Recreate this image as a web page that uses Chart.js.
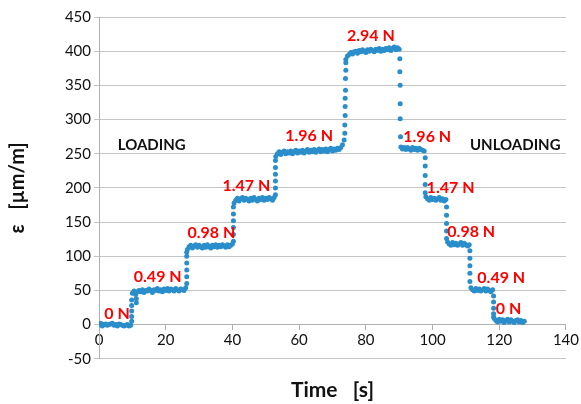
<!DOCTYPE html>
<html>
<head>
<meta charset="utf-8">
<script src="https://cdn.jsdelivr.net/npm/chart.js@4.4.1/dist/chart.umd.min.js"></script>
<style>
  body { margin: 0; background: #fff; }
  #wrap { width: 581px; height: 404px; }
</style>
</head>
<body>
<div id="wrap"><canvas id="grafico-deformacion" width="581" height="404"></canvas></div>
<script>
// Muestreo de la señal (s)
const sampleStep = 0.5;

// Deformación registrada cada 0.5 s, de 0 a 127.5 s (µm/m)
const strain0N = [0, 2, -2, 0, 1, -1, 0, 1, 2, -1, 0, -2, 1, 0, -1, -2, -1, 0, -2, -1];
const strain049 = [46, 49, 44, 48, 50, 48, 51, 47, 50, 49, 52, 50, 47, 51, 50, 53, 49, 51, 48, 52, 50, 53, 49, 52, 51, 49, 53, 51, 49, 52, 51, 50, 54];
const strain098 = [110, 114, 116, 112, 115, 117, 113, 116, 114, 112, 116, 113, 117, 114, 112, 116, 114, 117, 113, 116, 114, 117, 115, 113, 117, 114, 116, 118];
const strain147 = [178, 182, 185, 181, 184, 186, 182, 185, 183, 181, 185, 182, 186, 183, 181, 185, 183, 186, 182, 185, 183, 186, 184, 182, 186];
const strain196 = [246, 250, 253, 249, 252, 254, 250, 253, 251, 254, 250, 253, 255, 251, 254, 252, 255, 251, 254, 256, 252, 255, 253, 256, 252, 255, 257, 253, 256, 254, 257, 253, 256, 258, 254, 257, 255, 258, 256, 259, 263, 270];
const strain294 = [388, 393, 395, 398, 396, 399, 400, 397, 401, 399, 402, 400, 398, 402, 400, 403, 401, 399, 403, 401, 404, 400, 403, 401, 404, 402, 405, 401, 404, 406, 402, 405, 403];
const strain196u = [260, 257, 259, 256, 259, 257, 255, 259, 256, 258, 255, 258, 256, 255, 254];
const strain147u = [187, 184, 182, 186, 183, 185, 182, 184, 186, 182, 184, 181, 183];
const strain098u = [121, 118, 116, 120, 117, 119, 116, 118, 120, 116, 119, 117, 115, 117];
const strain049u = [54, 51, 49, 53, 50, 52, 49, 51, 53, 49, 52, 50, 48, 51];
const strain0Nu = [9, 6, 4, 8, 5, 7, 3, 6, 8, 4, 7, 5, 3, 6, 7, 4, 6, 3, 5];

// Puntos sueltos durante los cambios de carga
const jumpTime = [9.8, 9.8, 9.8, 9.8, 9.8, 11.2, 11.2,
  26.3, 26.3, 26.3, 26.3, 26.3, 26.3,
  40.3, 40.3, 40.3, 40.3, 40.3, 40.3,
  52.9, 52.9, 52.9, 52.9, 52.9, 52.9,
  73.7, 73.7, 73.8, 73.8, 73.8, 73.9, 73.9, 74.0, 74.0,
  90.2, 90.2, 90.3, 90.3, 90.3, 90.4,
  97.8, 97.8, 97.8, 97.8, 97.8,
  104.2, 104.2, 104.2, 104.2, 104.2,
  111.2, 111.2, 111.2, 111.2, 111.2,
  118.3, 118.3, 118.3, 118.3, 118.3];
const jumpStrain = [5, 12, 20, 28, 36, 32, 38,
  60, 70, 80, 90, 100, 106,
  122, 132, 142, 152, 162, 172,
  190, 200, 210, 220, 230, 240,
  280, 292, 306, 319, 331, 343, 360, 372, 383,
  389, 370, 350, 323, 301, 275,
  244, 232, 218, 205, 193,
  172, 160, 148, 137, 126,
  108, 97, 86, 75, 63,
  42, 33, 24, 16, 11];

// Etiquetas de carga: texto, tiempo y deformación donde se escriben
const loadText = ['0 N', '0.49 N', '0.98 N', '1.47 N', '1.96 N', '2.94 N', '1.96 N', '1.47 N', '0.98 N', '0.49 N', '0 N'];
const loadTime = [5.4, 17.6, 33.7, 44.2, 63.0, 81.5, 98.4, 105.4, 111.6, 120.6, 122.8];
const loadStrain = [16, 70, 134, 203, 276, 422, 275, 200, 136, 69, 23];

const phaseText = ['LOADING', 'UNLOADING'];
const phaseTime = [15.8, 124.8];
const phaseStrain = [263, 263];

const xTicks = { min: 0, max: 140, step: 20 };
const yTicks = { min: -50, max: 450, step: 50 };

const strain = [].concat(strain0N, strain049, strain098, strain147, strain196, strain294,
  strain196u, strain147u, strain098u, strain049u, strain0Nu);

const puntos = strain.map(function (v, i) { return { x: i * sampleStep, y: v }; })
  .concat(jumpTime.map(function (t, i) { return { x: t, y: jumpStrain[i] }; }));

const etiquetasPlugin = {
  id: 'etiquetas',
  afterDatasetsDraw: function (chart) {
    const ctx = chart.ctx;
    const xs = chart.scales.x;
    const ys = chart.scales.y;
    ctx.save();
    ctx.textAlign = 'center';
    ctx.textBaseline = 'middle';
    ctx.font = 'bold 16px Lato';
    ctx.fillStyle = '#ff0000';
    loadText.forEach(function (txt, i) {
      ctx.fillText(txt, xs.getPixelForValue(loadTime[i]), ys.getPixelForValue(loadStrain[i]));
    });
    ctx.font = 'bold 15px Lato';
    ctx.fillStyle = '#111';
    phaseText.forEach(function (txt, i) {
      ctx.fillText(txt, xs.getPixelForValue(phaseTime[i]), ys.getPixelForValue(phaseStrain[i]));
    });
    ctx.restore();
  }
};

const ctx = document.getElementById('grafico-deformacion');
new Chart(ctx, {
  type: 'scatter',
  data: {
    datasets: [{
      label: 'ε',
      data: puntos,
      backgroundColor: '#2a8ecb',
      borderColor: '#2a8ecb',
      borderWidth: 0,
      pointRadius: 2.5
    }]
  },
  options: {
    responsive: false,
    animation: false,
    layout: { padding: { top: 17, right: 14, bottom: 0, left: 0 } },
    plugins: {
      legend: { display: false },
      tooltip: { enabled: false },
      title: {
        display: true,
        position: 'bottom',
        fullSize: false,
        text: 'Time   [s]',
        color: '#111',
        font: { family: 'Lato', size: 21, weight: 'bold', lineHeight: 1.2 },
        padding: { top: 19, bottom: 1 }
      }
    },
    scales: {
      x: {
        type: 'linear',
        position: { y: 0 },
        min: xTicks.min,
        max: xTicks.max,
        ticks: { stepSize: xTicks.step, color: '#111', font: { family: 'Lato', size: 15 }, padding: 2, maxRotation: 0 },
        grid: { drawOnChartArea: false, drawTicks: true, tickLength: 5, color: '#b0b0b0' },
        border: { color: '#b0b0b0' }
      },
      y: {
        min: yTicks.min,
        max: yTicks.max,
        ticks: { stepSize: yTicks.step, color: '#111', font: { family: 'Lato', size: 15 }, padding: 3 },
        grid: { color: '#c4c4c4', tickLength: 5 },
        border: { color: '#b0b0b0' },
        title: {
          display: true,
          text: 'ε   [µm/m]',
          color: '#111',
          font: { family: 'Lato', size: 20, weight: 'bold' },
          padding: { top: 6, bottom: 0 }
        },
        afterFit: function (scale) { scale.width = 99; }
      }
    }
  },
  plugins: [etiquetasPlugin]
});
</script>
</body>
</html>
